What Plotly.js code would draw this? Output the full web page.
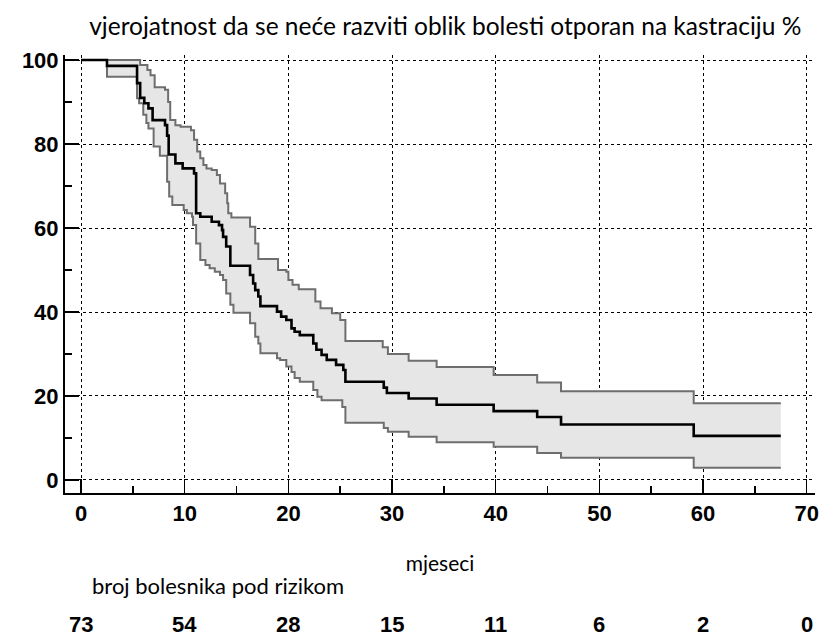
<!DOCTYPE html>
<html>
<head>
<meta charset="utf-8">
<script src="https://cdn.plot.ly/plotly-3.0.1.min.js"></script>
<style>html,body{margin:0;padding:0;background:#fff;}#chart{width:826px;height:641px;}</style>
</head>
<body>
<div id="chart"></div>
<script>
// Kaplan-Meier estimate (months, %)
const kmTime = [0, 2.5, 5.4, 5.7, 6.1, 6.5, 6.9, 8.1, 8.3, 8.45, 9.1, 9.8, 10.9, 11.1, 11.5, 12.6, 13.3, 13.6, 13.7, 14.0, 14.4, 16.3, 16.6, 16.8, 17.1, 17.3, 18.9, 19.3, 19.8, 20.3, 20.6, 21.1, 22.4, 22.7, 23.2, 23.7, 24.6, 25.3, 25.5, 29.2, 29.5, 31.6, 34.3, 39.8, 44.0, 46.3, 59.1, 67.5];
const kmSurv = [100, 98.6, 94.5, 91, 89.7, 88.5, 85.7, 84.5, 82, 77.5, 75.4, 74.2, 73, 63.5, 62.7, 61.5, 60.7, 59.5, 57.9, 55.6, 51, 48.8, 46.8, 45.2, 43.7, 41.4, 40.1, 38.9, 38.1, 36.1, 35.3, 34.5, 32.5, 31, 29.8, 28.6, 27.4, 26.2, 23.4, 22, 20.7, 19.4, 17.9, 16.4, 15, 13.2, 10.5, 10.5];

// Upper 95% confidence limit
const upTime = [0, 5.7, 6.4, 6.7, 7.1, 8.1, 8.4, 8.6, 9.1, 9.6, 10.6, 10.9, 11.2, 11.5, 11.8, 12.1, 12.6, 13.1, 13.4, 13.9, 14.1, 14.2, 14.5, 16.3, 16.8, 17.1, 19.0, 19.8, 20.0, 20.4, 21.0, 22.6, 23.1, 24.2, 25.0, 25.5, 29.1, 29.6, 31.6, 34.3, 39.8, 44.0, 46.3, 59.1, 67.5];
const upSurv = [100, 98.8, 97.6, 96.4, 93.5, 92.9, 90, 85.7, 84.5, 84.1, 83.3, 81, 78.2, 76.6, 75, 74.2, 73.8, 72.6, 70.6, 68.3, 65.9, 63.5, 62.5, 60.3, 56.3, 52.6, 50, 49.6, 47.6, 46.5, 45.4, 42.5, 40.9, 39.7, 38.1, 33.1, 31.6, 30, 28.4, 26.9, 25, 23.2, 21.1, 18.3, 18.3];

// Lower 95% confidence limit
const loTime = [0, 2.5, 5.4, 5.6, 6.0, 6.3, 6.5, 7.0, 7.6, 8.3, 8.5, 8.8, 9.9, 10.2, 10.7, 10.8, 11.1, 11.5, 12.0, 12.4, 12.9, 13.4, 13.7, 14.0, 14.4, 14.7, 16.3, 16.8, 17.1, 17.3, 18.9, 19.2, 19.8, 20.3, 20.6, 21.1, 22.4, 22.8, 23.2, 25.2, 25.5, 29.2, 29.6, 31.6, 34.3, 39.8, 44.0, 46.3, 59.1, 67.5];
const loSurv = [100, 96, 90.9, 89.7, 87, 85, 83.7, 79.4, 77.2, 71, 67.5, 65.5, 64.3, 63.5, 62.7, 60.7, 56.3, 52.4, 51.2, 50.4, 49.6, 48.8, 47.6, 44.4, 41.7, 39.8, 37.3, 34.1, 32.5, 30.2, 29, 28.6, 27, 25.7, 24.3, 23.4, 21.4, 19.8, 19, 17.4, 13.6, 12.4, 11.5, 10.3, 9, 7.9, 6.4, 5.3, 2.9, 2.9];

// Number at risk
const riskTimes = [0, 10, 20, 30, 40, 50, 60, 70];
const riskCounts = [73, 54, 28, 15, 11, 6, 2, 0];

const xTicks = [0, 10, 20, 30, 40, 50, 60, 70];
const yTicks = [0, 20, 40, 60, 80, 100];

const titleText = 'vjerojatnost da se neće razviti oblik bolesti otporan na kastraciju %';
const xTitleText = 'mjeseci';
const riskLabel = 'broj bolesnika pod rizikom';

function steps(t, v) {
  const xs = [], ys = [];
  for (let i = 0; i < t.length; i++) {
    xs.push(t[i]); ys.push(v[i]);
    if (i + 1 < t.length) { xs.push(t[i + 1]); ys.push(v[i]); }
  }
  return {xs, ys};
}
const up = steps(upTime, upSurv);
const lo = steps(loTime, loSurv);
const bandX = up.xs.concat(lo.xs.slice().reverse());
const bandY = up.ys.concat(lo.ys.slice().reverse());

const textFont = 'Lato, "Open Sans", sans-serif';
const boldFont = '"Liberation Sans", Arial, sans-serif';

const traces = [
  {x: bandX, y: bandY, type: 'scatter', mode: 'lines', fill: 'toself', fillcolor: '#e6e6e6', line: {width: 0}, hoverinfo: 'skip', showlegend: false},
  {x: upTime, y: upSurv, type: 'scatter', mode: 'lines', line: {shape: 'hv', color: '#6e6e6e', width: 2}, showlegend: false},
  {x: loTime, y: loSurv, type: 'scatter', mode: 'lines', line: {shape: 'hv', color: '#6e6e6e', width: 2}, showlegend: false},
  {x: kmTime, y: kmSurv, type: 'scatter', mode: 'lines', line: {shape: 'hv', color: '#000000', width: 2.6}, showlegend: false}
];

const annotations = riskTimes.map((t, i) => ({
  x: t, xref: 'x', y: -0.301, yref: 'paper', text: String(riskCounts[i]), showarrow: false,
  xanchor: 'center', yanchor: 'middle', font: {family: boldFont, size: 22, color: '#000', weight: 700}
}));
annotations.push({
  x: 0.033, xref: 'paper', y: -0.212, yref: 'paper', text: riskLabel, showarrow: false,
  xanchor: 'left', yanchor: 'middle', font: {family: textFont, size: 22, color: '#000'}
});

const layout = {
  width: 826, height: 641,
  margin: {l: 65, r: 11, t: 55, b: 148},
  paper_bgcolor: '#fff', plot_bgcolor: '#fff',
  title: {text: titleText, x: 0.507, xref: 'paper', xanchor: 'center', y: 0.958, yref: 'container', yanchor: 'middle',
          font: {family: textFont, size: 24.5, color: '#000'}},
  xaxis: {
    range: [-1.55, 70.8], tickvals: xTicks, ticktext: xTicks.map(String),
    showline: true, linecolor: '#000', linewidth: 2, mirror: false,
    ticks: 'inside', ticklen: 14, tickwidth: 1.5, tickcolor: '#000',
    minor: {ticks: 'inside', ticklen: 7, tickwidth: 1.5, tickcolor: '#000', dtick: 5, tick0: 5, showgrid: false},
    showgrid: true, gridcolor: '#000', gridwidth: 1, griddash: 'dot', zeroline: false,
    tickfont: {family: boldFont, size: 22, color: '#000', weight: 700},
    title: {text: xTitleText, font: {family: textFont, size: 21, color: '#000'}, standoff: 31},
    fixedrange: true
  },
  yaxis: {
    range: [-3.1, 101.2], tickvals: yTicks, ticktext: yTicks.map(String),
    showline: true, linecolor: '#000', linewidth: 2, mirror: false,
    ticks: 'inside', ticklen: 14, tickwidth: 1.5, tickcolor: '#000',
    minor: {ticks: 'inside', ticklen: 7, tickwidth: 1.5, tickcolor: '#000', dtick: 10, tick0: 10, showgrid: false},
    showgrid: true, gridcolor: '#000', gridwidth: 1, griddash: 'dot', zeroline: false,
    tickfont: {family: boldFont, size: 22, color: '#000', weight: 700},
    fixedrange: true
  },
  annotations: annotations
};

Plotly.newPlot('chart', traces, layout, {displayModeBar: false, staticPlot: true});
</script>
</body>
</html>
